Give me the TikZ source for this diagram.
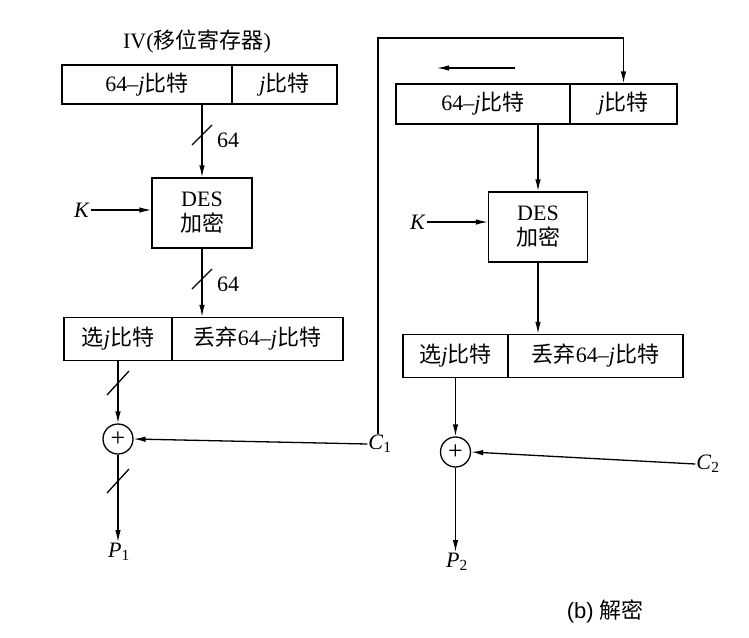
\documentclass[tikz,border=0pt]{standalone}
\usepackage{fontspec}
\setmainfont{Liberation Serif}
\newfontfamily\cjk{Noto Sans CJK SC}
\newfontfamily\sansf{Liberation Sans}
\usetikzlibrary{arrows.meta}
\begin{document}
\begin{tikzpicture}[x=1pt,y=-1pt,
  font=\fontsize{22}{24}\selectfont,
  box/.style={draw, line width=1.3pt, inner sep=0pt},
  arr/.style={-{Latex[length=12pt,width=5.5pt]}, line width=1.3pt},
  ln/.style={line width=1.3pt},
  xorc/.style={circle, draw, line width=1.3pt, minimum size=30pt, inner sep=0pt, font=\fontsize{26}{26}\selectfont},
  lbl/.style={inner sep=1pt}]
\useasboundingbox (0,0) rectangle (749,637);

% ---------- left ----------
\node[lbl] (iv) at (197,42) {IV({\cjk 移位寄存器})};
\node[box, minimum width=170pt, minimum height=39pt] (r1a) at (147,84.5) {64–\textit{j}{\cjk 比特}};
\node[box, minimum width=105pt, minimum height=39pt] (r1b) at (284.5,84.5) {\textit{j}{\cjk 比特}};
\node[box, minimum width=100pt, minimum height=70pt, align=center] (des1) at (202,213) {DES\\[1pt]{\cjk 加密}};
\node[lbl] (K1) at (82,210) {\textit{K}};
\node[box, minimum width=108pt, minimum height=43pt] (s1a) at (118,339) {{\cjk 选}\textit{j}{\cjk 比特}};
\node[box, minimum width=171pt, minimum height=43pt] (s1b) at (257.5,339) {{\cjk 丢弃}64–\textit{j}{\cjk 比特}};
\node[xorc] (x1) at (118,439) {+};
\node[lbl] (C1) at (380,444) {\textit{C}\textsubscript{1}};
\node[lbl] (P1) at (119,552) {\textit{P}\textsubscript{1}};

\draw[arr] (des1.north |- r1a.south) -- (des1.north);
\coordinate (sl1) at (202,135);
\draw[ln] ([shift={(-10,10)}]sl1) -- ([shift={(10,-10)}]sl1);
\node[lbl] (n64a) at (228,140) {64};
\draw[arr] (K1) -- (K1 -| des1.west);
\draw[arr] (des1.south) -- (des1.south |- s1b.north);
\coordinate (sl2) at (202,279);
\draw[ln] ([shift={(-10,10)}]sl2) -- ([shift={(10,-10)}]sl2);
\node[lbl] (n64b) at (228,284) {64};
\draw[arr] (s1a.south) -- (x1.north);
\coordinate (sl3) at (118,383);
\draw[ln] ([shift={(-11,12)}]sl3) -- ([shift={(11,-12)}]sl3);
\draw[arr] (x1.south) -- (x1.south |- P1.north);
\coordinate (sl4) at (118,481);
\draw[ln] ([shift={(-11,12)}]sl4) -- ([shift={(11,-12)}]sl4);
\draw[arr] (C1.west) -- (x1.east);

% ---------- right ----------
\node[box, minimum width=174pt, minimum height=40pt] (r2a) at (483,104) {64–\textit{j}{\cjk 比特}};
\node[box, minimum width=107pt, minimum height=40pt] (r2b) at (623.5,104) {\textit{j}{\cjk 比特}};
\node[box, minimum width=99pt, minimum height=70pt, align=center] (des2) at (538,227) {DES\\[1pt]{\cjk 加密}};
\node[lbl] (K2) at (418,222) {\textit{K}};
\node[box, minimum width=105pt, minimum height=43pt] (s2a) at (455.5,356) {{\cjk 选}\textit{j}{\cjk 比特}};
\node[box, minimum width=175pt, minimum height=43pt] (s2b) at (595.5,356) {{\cjk 丢弃}64–\textit{j}{\cjk 比特}};
\node[xorc] (x2) at (455.5,452) {+};
\node[lbl] (C2) at (708,464) {\textit{C}\textsubscript{2}};
\node[lbl] (P2) at (457,562) {\textit{P}\textsubscript{2}};
\node[lbl] (cap) at (605,611) {{\sansf (b)} {\cjk 解密}};

% feedback
\coordinate (top) at (378,38);
\draw[arr] (C1.north -| top) -- (top) -- (r2b.north |- top) -- (r2b.north);
% shift arrow
\coordinate (sha) at (515,68);
\coordinate (shb) at (437,68);
\draw[arr] (sha) -- (shb);

\draw[arr] (des2.north |- r2a.south) -- (des2.north);
\draw[arr] (K2) -- (K2 -| des2.west);
\draw[arr] (des2.south) -- (des2.south |- s2b.north);
\draw[arr] (s2a.south) -- (x2.north);
\draw[arr] (x2.south) -- (x2.south |- P2.north);
\draw[arr] (C2.west) -- (x2.east);
\end{tikzpicture}
\end{document}
